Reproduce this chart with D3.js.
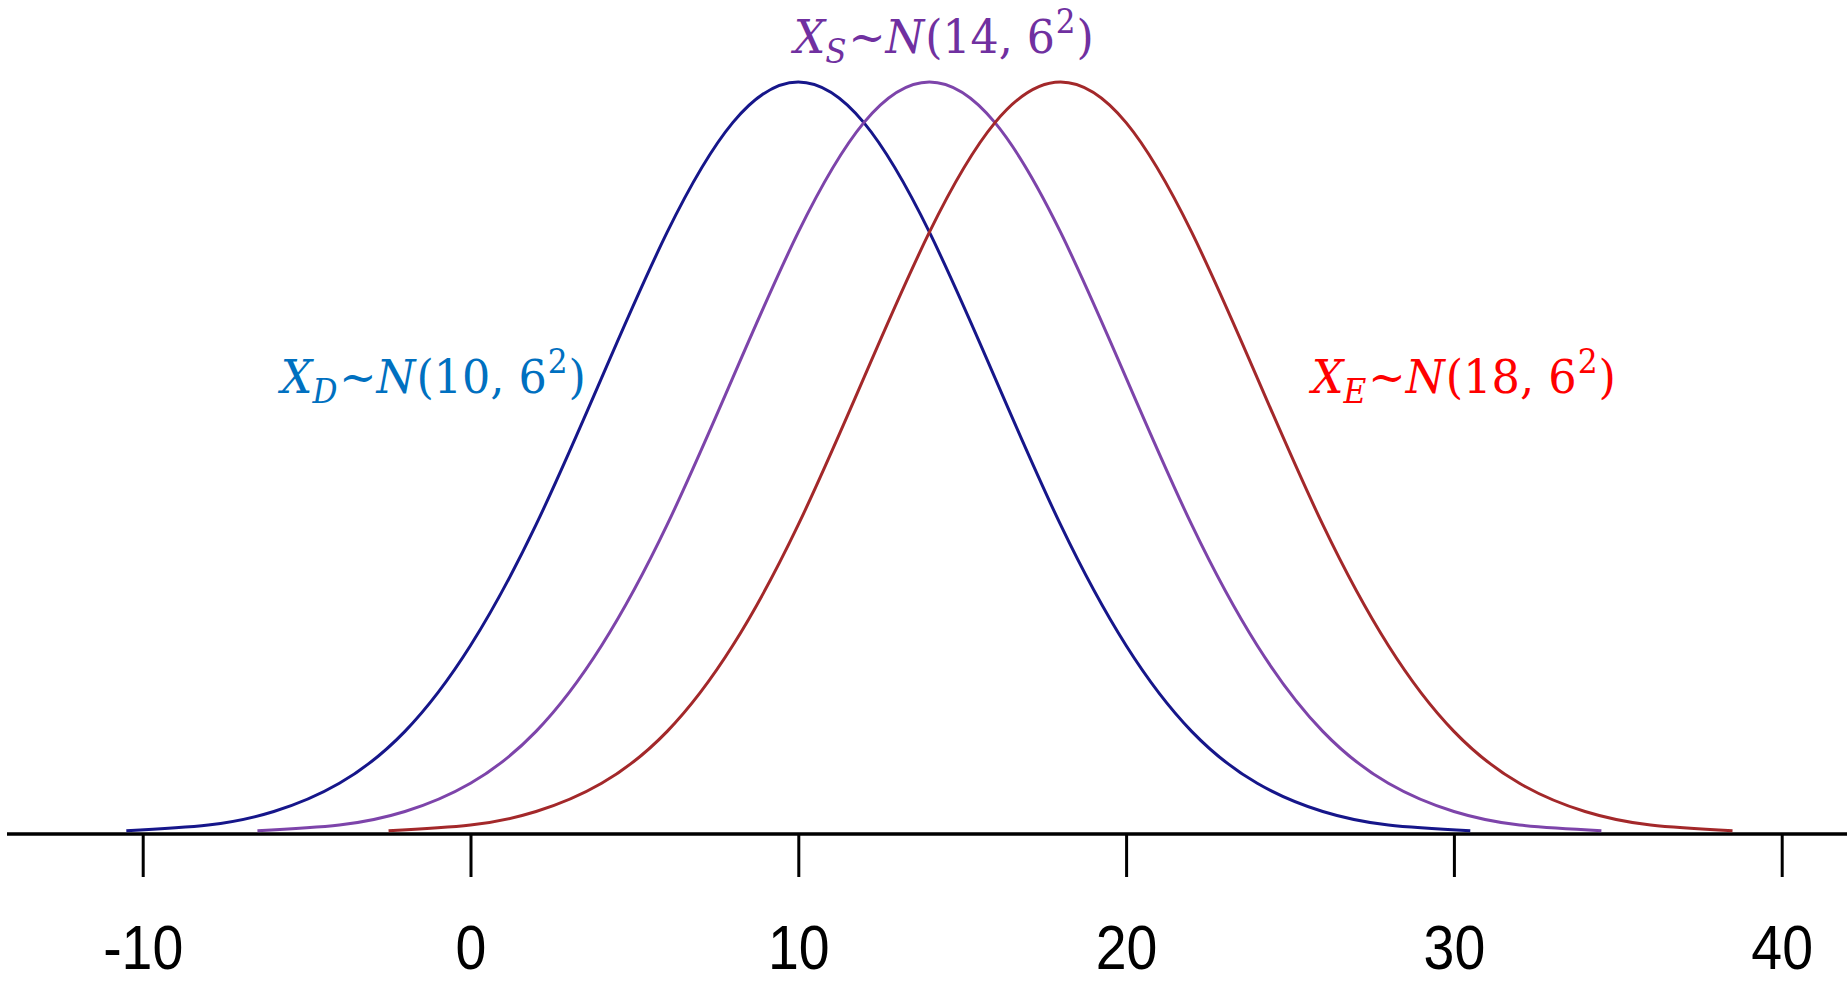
<!DOCTYPE html>
<html>
<head>
<meta charset="utf-8">
<style>
  html, body { margin: 0; padding: 0; background: #fff; }
  svg { display: block; }
  .tick text { font-family: "Liberation Sans", Arial, sans-serif; }
</style>
<title>Three normal distributions</title>
</head>
<body>
<script src="https://cdn.jsdelivr.net/npm/d3@7"></script>
<script>
// values
var xTicks = [-10, 0, 10, 20, 30, 40];
var tickLabels = ["-10", "0", "10", "20", "30", "40"];

// X_D ~ N(10, 6^2)
var xD = [-10.5, -8, -6, -4, -2, 0, 2, 4, 6, 8, 10, 12, 14, 16, 18, 20, 22, 24, 26, 28, 30.5];
// X_S ~ N(14, 6^2)
var xS = [-6.5, -4, -2, 0, 2, 4, 6, 8, 10, 12, 14, 16, 18, 20, 22, 24, 26, 28, 30, 32, 34.5];
// X_E ~ N(18, 6^2)
var xE = [-2.5, 0, 2, 4, 6, 8, 10, 12, 14, 16, 18, 20, 22, 24, 26, 28, 30, 32, 34, 36, 38.5];

var yD = [0.0002, 0.0007, 0.0019, 0.0044, 0.0090, 0.0166, 0.0273, 0.0403, 0.0532, 0.0629, 0.0665,
          0.0629, 0.0532, 0.0403, 0.0273, 0.0166, 0.0090, 0.0044, 0.0019, 0.0007, 0.0002];
var yS = [0.0002, 0.0007, 0.0019, 0.0044, 0.0090, 0.0166, 0.0273, 0.0403, 0.0532, 0.0629, 0.0665,
          0.0629, 0.0532, 0.0403, 0.0273, 0.0166, 0.0090, 0.0044, 0.0019, 0.0007, 0.0002];
var yE = [0.0002, 0.0007, 0.0019, 0.0044, 0.0090, 0.0166, 0.0273, 0.0403, 0.0532, 0.0629, 0.0665,
          0.0629, 0.0532, 0.0403, 0.0273, 0.0166, 0.0090, 0.0044, 0.0019, 0.0007, 0.0002];

var seriesNames = ["D", "S", "E"];
var seriesMeans = ["10", "14", "18"];
var curveColors = ["#16168a", "#7d44aa", "#a3282a"];
var labelColors = ["#0070c0", "#7030a0", "#ff0000"];

var width = 1847, height = 983;

var svg = d3.select("body").append("svg")
  .attr("width", width)
  .attr("height", height);

// scales
var x = d3.scaleLinear().domain([-10, 40]).range([142.7, 1781.7]);
var y = d3.scaleLinear().domain([0, 0.0665]).range([833, 82]);
var axisY = 834;

// axis line runs the full width of the picture
svg.append("line")
  .attr("x1", 7)
  .attr("x2", width)
  .attr("y1", axisY)
  .attr("y2", axisY)
  .attr("stroke", "#000")
  .attr("stroke-width", 3.5);

var xAxis = d3.axisBottom(x)
  .tickValues(xTicks)
  .tickFormat(function (d, i) { return tickLabels[i]; })
  .tickSize(43);

var gx = svg.append("g")
  .attr("transform", "translate(0," + axisY + ")")
  .call(xAxis);

gx.select(".domain").remove();
gx.selectAll(".tick line")
  .attr("stroke", "#000")
  .attr("stroke-width", 3);

// narrow, tall digits as in the original plot
gx.selectAll(".tick text")
  .attr("y", 0)
  .attr("dy", 0)
  .attr("fill", "#000")
  .attr("transform", "translate(0,135) scale(0.88,1)")
  .style("font-size", "63px");

// curves
var line = d3.line()
  .x(function (d) { return x(d[0]); })
  .y(function (d) { return y(d[1]); })
  .curve(d3.curveNatural);

var series = [d3.zip(xD, yD), d3.zip(xS, yS), d3.zip(xE, yE)];

svg.selectAll("path.curve")
  .data(series)
  .enter().append("path")
  .attr("class", "curve")
  .attr("d", line)
  .attr("fill", "none")
  .attr("stroke", function (d, i) { return curveColors[i]; })
  .attr("stroke-width", 3);

// labels  X_k ~ N(mean, 6^2)
var labelPos = [
  { left: 277, right: 586, base: 393 },
  { left: 790, right: 1094, base: 53 },
  { left: 1308, right: 1616, base: 393 }
];

labelPos.forEach(function (p, i) {
  var t = svg.append("text")
    .attr("x", 0)
    .attr("y", 0)
    .attr("fill", labelColors[i])
    .style("font-family", "'DejaVu Serif', 'Liberation Serif', serif")
    .style("font-size", "47px");

  t.append("tspan").style("font-style", "italic").text("X");
  t.append("tspan").style("font-style", "italic").style("font-size", "33px")
    .attr("dy", 10).text(seriesNames[i]);
  t.append("tspan").attr("dy", -10).attr("dx", 2).text("~");
  t.append("tspan").style("font-style", "italic").text("N");
  t.append("tspan").attr("dx", 1).text("(" + seriesMeans[i] + ", 6");
  t.append("tspan").style("font-size", "33px").attr("dy", -20).attr("dx", 1).text("2");
  t.append("tspan").attr("dy", 20).attr("dx", 1).text(")");

  var bb = t.node().getBBox();
  var sx = (p.right - p.left) / bb.width;
  t.attr("transform", "translate(" + (p.left - bb.x * sx) + "," + p.base + ") scale(" + sx + ",1)");
});
</script>
</body>
</html>
